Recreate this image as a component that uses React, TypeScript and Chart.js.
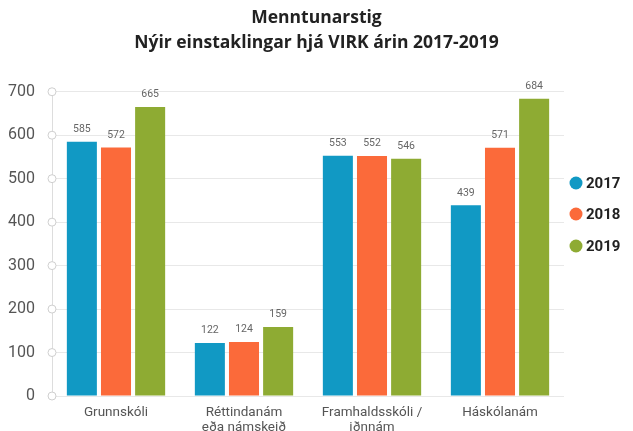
import React, { useEffect, useRef } from "react";
import { Chart, registerables } from "chart.js";

Chart.register(...registerables);

const categories: (string | string[])[] = [
  "Grunnskóli",
  ["Réttindanám", "eða námskeið"],
  ["Framhaldsskóli /", "iðnnám"],
  "Háskólanám",
];
const seriesNames = ["2017", "2018", "2019"];
const values2017 = [585, 122, 553, 439];
const values2018 = [572, 124, 552, 571];
const values2019 = [665, 159, 546, 684];
const colors = ["#1199c4", "#fb6a3a", "#8eab33"];
const yTicks = [0, 100, 200, 300, 400, 500, 600, 700];

const decorPlugin = {
  id: "decor",
  afterDatasetsDraw(chart: any) {
    const ctx = chart.ctx;
    const area = chart.chartArea;
    const yScale = chart.scales.y;
    ctx.save();
    yTicks.forEach((t) => {
      const y = yScale.getPixelForValue(t);
      ctx.beginPath();
      ctx.arc(area.left, y, 4, 0, Math.PI * 2);
      ctx.fillStyle = "#ffffff";
      ctx.fill();
      ctx.lineWidth = 1;
      ctx.strokeStyle = "#cfcfcf";
      ctx.stroke();
    });
    ctx.font = "10.5px Roboto";
    ctx.fillStyle = "#666666";
    ctx.textAlign = "center";
    ctx.textBaseline = "bottom";
    chart.data.datasets.forEach((ds: any, di: number) => {
      const meta = chart.getDatasetMeta(di);
      meta.data.forEach((bar: any, i: number) => {
        ctx.fillText(String(ds.data[i]), bar.x, bar.y - 7);
      });
    });
    const lx = area.right + 12;
    const ly = [183, 214, 246];
    chart.data.datasets.forEach((ds: any, di: number) => {
      const y = ly[di];
      ctx.beginPath();
      ctx.arc(lx, y, 6.5, 0, Math.PI * 2);
      ctx.fillStyle = ds.backgroundColor;
      ctx.fill();
      ctx.font = "bold 15px Roboto";
      ctx.fillStyle = "#222222";
      ctx.textAlign = "left";
      ctx.textBaseline = "middle";
      ctx.fillText(ds.label, lx + 10, y + 1);
    });
    ctx.restore();
  },
};

export default function App() {
  const ref = useRef<HTMLCanvasElement>(null);
  useEffect(() => {
    document.body.style.margin = "0";
    const chart = new Chart(ref.current!, {
      type: "bar",
      data: {
        labels: categories,
        datasets: [values2017, values2018, values2019].map((d, i) => ({
          label: seriesNames[i],
          data: d,
          backgroundColor: colors[i],
          categoryPercentage: 0.8,
          barPercentage: 0.88,
        })),
      },
      options: {
        animation: false,
        responsive: false,
        layout: { padding: 0 },
        plugins: {
          legend: { display: false },
          tooltip: { enabled: false },
          title: {
            display: true,
            text: ["Menntunarstig", "Nýir einstaklingar hjá VIRK árin 2017-2019"],
            font: { family: "Open Sans", size: 17.5, weight: "bold", lineHeight: 1.45 },
            color: "#222222",
            padding: { top: 5, bottom: 36 },
          },
        },
        scales: {
          x: {
            grid: { display: false, drawTicks: false },
            border: { display: false },
            ticks: {
              color: "#555555",
              font: { family: "Roboto", size: 13.5, lineHeight: 1.05 },
              padding: 10,
              maxRotation: 0,
              autoSkip: false,
            },
            afterFit: (s: any) => {
              s.height = 35;
            },
          },
          y: {
            min: 0,
            max: 700,
            ticks: {
              stepSize: 100,
              color: "#555555",
              font: { family: "Roboto", size: 16 },
              padding: 17,
            },
            grid: { color: "#e8e8e8", tickLength: 0 },
            border: { color: "#dddddd" },
            afterFit: (s: any) => {
              s.width = 52;
            },
          },
          spacer: {
            type: "linear",
            position: "right",
            display: true,
            ticks: { display: false },
            grid: { display: false, drawTicks: false },
            border: { display: false },
            afterFit: (s: any) => {
              s.width = 69;
            },
          },
        },
      },
      plugins: [decorPlugin],
    });
    return () => chart.destroy();
  }, []);
  return (
    <div style={{ width: 633, height: 431 }}>
      <canvas ref={ref} width={633} height={431} />
    </div>
  );
}
